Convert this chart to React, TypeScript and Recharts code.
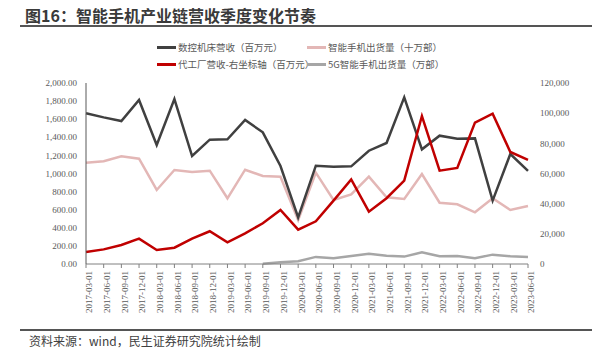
import { LineChart, Line, XAxis, YAxis } from 'recharts';

const quarters = [
  '2017-03-01', '2017-06-01', '2017-09-01', '2017-12-01',
  '2018-03-01', '2018-06-01', '2018-09-01', '2018-12-01',
  '2019-03-01', '2019-06-01', '2019-09-01', '2019-12-01',
  '2020-03-01', '2020-06-01', '2020-09-01', '2020-12-01',
  '2021-03-01', '2021-06-01', '2021-09-01', '2021-12-01',
  '2022-03-01', '2022-06-01', '2022-09-01', '2022-12-01',
  '2023-03-01', '2023-06-01',
];

// 数控机床营收（百万元）- left axis
const machineRevenue = [
  1665, 1620, 1580, 1812, 1315, 1823, 1193, 1374, 1378, 1591, 1455, 1083, 516,
  1086, 1075, 1079, 1252, 1337, 1842, 1267, 1418, 1385, 1388, 700, 1215, 1028,
];

// 智能手机出货量（十万部）- left axis
const phoneShipments = [
  1120, 1135, 1190, 1164, 818, 1039, 1017, 1031, 726, 1042, 972, 965, 486,
  1009, 707, 770, 965, 737, 718, 994, 677, 660, 571, 726, 597, 641,
];

// 代工厂营收-右坐标轴（百万元）
const foundryRevenue = [
  7950, 9700, 12600, 16800, 9300, 10800, 16800, 21700, 14400, 20300, 27000, 35800, 22800,
  28300, 42000, 56100, 34700, 43600, 55300, 98100, 61900, 63700, 93700, 99700, 74300, 69000,
];

// 5G智能手机出货量（万部）- right axis
const fiveGShipments = [
  null, null, null, null, null, null, null, null, null, null, 100, 1100, 1800,
  4700, 3800, 5300, 6800, 5500, 4900, 7700, 5100, 5300, 3800, 6200, 5100, 4700,
];

const leftTicks = [0, 200, 400, 600, 800, 1000, 1200, 1400, 1600, 1800, 2000];
const rightTicks = [0, 20000, 40000, 60000, 80000, 100000, 120000];

const seriesNames = [
  '数控机床营收（百万元）',
  '智能手机出货量（十万部）',
  '代工厂营收-右坐标轴（百万元）',
  '5G智能手机出货量（万部）',
];
const seriesColors = ['#404040', '#E3B7B6', '#C00000', '#A6A6A6'];

const data = quarters.map((q, i) => ({
  q,
  machine: machineRevenue[i],
  phone: phoneShipments[i],
  foundry: foundryRevenue[i],
  fiveG: fiveGShipments[i],
}));

const tickFont = { fontFamily: '"Liberation Serif", serif', fontSize: 9, fill: '#595959' };

const fmtLeft = (v: number) =>
  v.toLocaleString('en-US', { minimumFractionDigits: 2, maximumFractionDigits: 2 });
const fmtRight = (v: number) => v.toLocaleString('en-US');

function LegendItem({ name, color, x, y }: { name: string; color: string; x: number; y: number }) {
  return (
    <div style={{ position: 'absolute', left: x, top: y - 7, height: 14, display: 'flex', alignItems: 'center' }}>
      <span style={{ display: 'inline-block', width: 19, height: 3, background: color, marginRight: 2 }} />
      <span style={{ fontFamily: '"Noto Sans CJK SC", sans-serif', fontSize: 9.5, color: '#595959', whiteSpace: 'nowrap' }}>
        {name}
      </span>
    </div>
  );
}

export default function App() {
  return (
    <div style={{ position: 'relative', width: 599, height: 362, background: '#fff', overflow: 'hidden' }}>
      <style>{'body{margin:0}'}</style>
      <div
        style={{
          position: 'absolute',
          left: 25,
          top: 5,
          fontFamily: '"Noto Sans CJK SC", sans-serif',
          fontWeight: 700,
          fontSize: 16,
          color: '#3a3a3a',
          whiteSpace: 'nowrap',
          lineHeight: '20px',
        }}
      >
        图16：智能手机产业链营收季度变化节奏
      </div>
      <div style={{ position: 'absolute', left: 20, top: 25, width: 572, height: 1.5, background: '#555' }} />

      <LegendItem name={seriesNames[0]} color={seriesColors[0]} x={157} y={47} />
      <LegendItem name={seriesNames[2]} color={seriesColors[2]} x={157} y={64} />
      <LegendItem name={seriesNames[1]} color={seriesColors[1]} x={307} y={47} />
      <LegendItem name={seriesNames[3]} color={seriesColors[3]} x={307} y={64} />

      <div style={{ position: 'absolute', left: 0, top: 0 }}>
        <LineChart width={599} height={362} data={data} margin={{ top: 83, right: 11, bottom: 48, left: 8 }}>
          <XAxis
            dataKey="q"
            interval={0}
            height={50}
            angle={-90}
            textAnchor="end"
            tick={tickFont}
            tickSize={4}
            tickMargin={3}
            axisLine={{ stroke: '#808080' }}
            tickLine={{ stroke: '#808080' }}
          />
          <YAxis
            yAxisId="left"
            width={78}
            domain={[0, 2000]}
            ticks={leftTicks}
            tickFormatter={fmtLeft}
            tick={tickFont}
            tickLine={false}
            tickSize={0}
            tickMargin={9}
            axisLine={{ stroke: '#595959' }}
          />
          <YAxis
            yAxisId="right"
            orientation="right"
            width={60}
            domain={[0, 120000]}
            ticks={rightTicks}
            tickFormatter={fmtRight}
            tick={tickFont}
            tickLine={false}
            tickSize={0}
            tickMargin={12}
            axisLine={false}
          />
          <Line yAxisId="right" dataKey="fiveG" name={seriesNames[3]} stroke={seriesColors[3]} strokeWidth={2.5} dot={false} isAnimationActive={false} />
          <Line yAxisId="left" dataKey="phone" name={seriesNames[1]} stroke={seriesColors[1]} strokeWidth={2.5} dot={false} isAnimationActive={false} />
          <Line yAxisId="left" dataKey="machine" name={seriesNames[0]} stroke={seriesColors[0]} strokeWidth={2.5} dot={false} isAnimationActive={false} />
          <Line yAxisId="right" dataKey="foundry" name={seriesNames[2]} stroke={seriesColors[2]} strokeWidth={2.5} dot={false} isAnimationActive={false} />
        </LineChart>
      </div>

      <div style={{ position: 'absolute', left: 20, top: 329, width: 572, height: 1.5, background: '#555' }} />
      <div
        style={{
          position: 'absolute',
          left: 29,
          top: 333,
          fontFamily: '"Noto Sans CJK SC", sans-serif',
          fontSize: 12,
          color: '#404040',
          whiteSpace: 'nowrap',
          lineHeight: '16px',
        }}
      >
        资料来源：wind，民生证券研究院统计绘制
      </div>
    </div>
  );
}
